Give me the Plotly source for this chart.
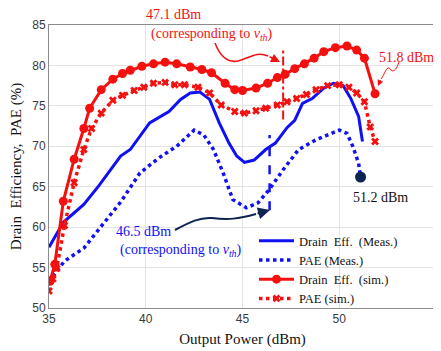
import plotly.graph_objects as go

# ---- data ----
de_meas_x = [35.0, 35.74, 36.8, 37.6, 38.7, 39.2, 40.2, 41.2, 41.8, 42.3, 42.8, 43.3, 43.8, 44.3, 44.7,
             45.1, 45.6, 46.2, 46.7, 47.3, 47.7, 48.1, 48.6, 49.2, 49.7, 50.2, 50.6, 51.0, 51.2]
de_meas_y = [57.5, 60.6, 62.8, 65.2, 68.8, 69.6, 72.9, 74.3, 75.8, 76.6, 76.7, 75.8, 72.9, 70.4, 68.8,
             68.0, 68.3, 69.6, 70.4, 72.3, 73.2, 75.3, 75.9, 77.2, 77.8, 77.5, 75.9, 73.7, 70.6]

pae_meas_x = [35.2, 35.8, 36.8, 37.6, 38.7, 39.7, 40.7, 41.6, 42.5, 43.0, 43.5, 44.0, 44.5, 45.2,
              45.8, 46.4, 47.1, 47.9, 48.8, 50.0, 50.4, 50.7, 51.0, 51.1]
pae_meas_y = [53.9, 55.8, 57.4, 59.8, 63.1, 66.7, 68.6, 70.0, 72.0, 71.4, 69.6, 66.7, 63.4, 62.4,
              63.0, 64.7, 67.1, 69.6, 70.8, 72.0, 71.6, 70.0, 67.9, 66.2]

de_sim_x = [35.05, 35.3, 35.74, 36.3, 36.8, 37.1, 37.7, 38.3, 38.8, 39.2, 39.8, 40.4, 41.0, 41.6, 42.3,
            42.9, 43.4, 44.1, 44.6, 45.0, 45.7, 46.3, 46.8, 47.2, 47.7, 48.2, 48.7, 49.2, 49.8, 50.4,
            50.9, 51.3, 51.85]
de_sim_y = [53.3, 55.4, 63.2, 68.4, 72.2, 74.7, 77.0, 78.3, 79.0, 79.4, 79.9, 80.2, 80.4, 80.2, 79.8,
            79.5, 79.1, 77.8, 77.0, 76.9, 77.2, 77.8, 78.5, 78.9, 79.6, 80.2, 80.9, 81.7, 82.2, 82.4,
            81.9, 80.9, 76.5]

pae_sim_x = [35.0, 35.2, 35.4, 35.8, 36.3, 36.8, 37.2, 37.7, 38.3, 38.8, 39.4, 39.9, 40.4, 41.0, 41.5,
             42.0, 42.7, 43.3, 43.9, 44.6, 45.1, 45.7, 46.2, 46.8, 47.3, 47.8, 48.3, 48.8, 49.4, 50.0,
             50.5, 50.9, 51.3, 51.6, 51.85]
pae_sim_y = [52.1, 53.6, 54.9, 60.2, 65.5, 69.6, 72.2, 74.1, 75.7, 76.3, 76.9, 77.3, 77.8, 77.9, 77.6,
             77.6, 77.3, 76.6, 75.1, 74.3, 74.1, 74.4, 74.7, 75.1, 75.5, 75.9, 76.4, 77.0, 77.5, 77.6,
             77.3, 76.6, 75.5, 72.4, 70.6]

end_point_x = [51.1]
end_point_y = [66.2]

vth_sim_x = 47.1
vth_sim_y = [73.3, 81.9]
vth_meas_x = 46.4
vth_meas_y = [62.1, 71.4]

x_ticks = [35, 40, 45, 50, 55]
y_ticks = [50, 55, 60, 65, 70, 75, 80, 85]

BLUE = "#1010f5"
RED = "#f51010"
NAVY = "#0d2350"
SERIF = "Liberation Serif, Times New Roman, serif"
SANS = "Liberation Sans, Arial, sans-serif"

OFF = 8  # default page body margin
W, H = 441 - OFF, 351 - OFF
L, R, T, B = 49 - OFF, 5, 25 - OFF, 43
PW, PH = W - L - R, H - T - B


# helpers: convert screen-pixel positions (in the 441x351 window) to paper coords
def px(xp):
    return (xp - OFF - L) / PW


def py(yp):
    return (H - B - (yp - OFF)) / PH


def path(pts):
    s = "M %f,%f" % (px(pts[0][0]), py(pts[0][1]))
    for i in range(1, len(pts) - 2, 3):
        s += " C %f,%f %f,%f %f,%f" % (px(pts[i][0]), py(pts[i][1]), px(pts[i + 1][0]), py(pts[i + 1][1]),
                                         px(pts[i + 2][0]), py(pts[i + 2][1]))
    return s


fig = go.Figure()
fig.add_trace(go.Scatter(x=de_meas_x, y=de_meas_y, mode="lines", name="Drain  Eff.  (Meas.)",
                         line=dict(color=BLUE, width=3)))
fig.add_trace(go.Scatter(x=pae_meas_x, y=pae_meas_y, mode="lines", name="PAE (Meas.)",
                         line=dict(color=BLUE, width=3.5, dash="dot")))
fig.add_trace(go.Scatter(x=de_sim_x, y=de_sim_y, mode="lines+markers", name="Drain  Eff.  (sim.)",
                         line=dict(color=RED, width=3), marker=dict(symbol="circle", size=9, color=RED)))
fig.add_trace(go.Scatter(x=pae_sim_x, y=pae_sim_y, mode="lines+markers", name="PAE (sim.)",
                         line=dict(color=RED, width=3.5, dash="dot"),
                         marker=dict(symbol="x", size=7, color=RED)))
fig.add_trace(go.Scatter(x=end_point_x, y=end_point_y, mode="markers", showlegend=False,
                         marker=dict(symbol="circle", size=11, color=NAVY)))

fig.add_shape(type="line", xref="x", yref="y", x0=vth_sim_x, x1=vth_sim_x, y0=vth_sim_y[0], y1=vth_sim_y[1],
              line=dict(color=RED, width=2, dash="dashdot"))
fig.add_shape(type="line", xref="x", yref="y", x0=vth_meas_x, x1=vth_meas_x, y0=vth_meas_y[0], y1=vth_meas_y[1],
              line=dict(color=BLUE, width=2.5, dash="dash"))

# curved arrows (paper coordinates from pixel positions)
fig.add_shape(type="path", xref="paper", yref="paper",
              path=path([(215, 43), (220, 56), (228, 63), (238, 61), (250, 58), (256, 51), (268, 56)]),
              line=dict(color=RED, width=1.5))
fig.add_shape(type="path", xref="paper", yref="paper",
              path=path([(399, 62), (397, 68), (394, 73), (391, 70), (388, 65), (386, 70), (384, 74),
                         (383, 76), (382, 78), (381, 79)]),
              line=dict(color=RED, width=1))
fig.add_shape(type="path", xref="paper", yref="paper",
              path=path([(175, 230), (190, 222), (200, 217), (212, 218), (228, 220), (238, 219), (256, 214)]),
              line=dict(color=NAVY, width=2))

arrows = [((280, 62), (268, 56), RED, 1.5), ((378, 86), (381, 79), RED, 1), ((270, 210), (256, 214), NAVY, 2)]
for (tx, ty), (sx, sy), c, w in arrows:
    fig.add_annotation(xref="paper", yref="paper", x=px(tx), y=py(ty), ax=sx - tx, ay=sy - ty,
                       text="", showarrow=True, arrowhead=2, arrowsize=1.2, arrowwidth=w, arrowcolor=c)

texts = [
    ("47.1 dBm", 173, 15, RED),
    ("(corresponding to <i>v</i><sub><i>th</i></sub>)", 212, 34, RED),
    ("51.8 dBm", 406, 57, RED),
    ("51.2 dBm", 380, 197, "#111111"),
    ("46.5 dBm", 143, 231, BLUE),
    ("(corresponding to <i>v</i><sub><i>th</i></sub>)", 181, 250, BLUE),
]
for t, x, y, c in texts:
    fig.add_annotation(xref="paper", yref="paper", x=px(x), y=py(y), text=t, showarrow=False,
                       xanchor="center", yanchor="middle", font=dict(family=SERIF, size=14, color=c))

fig.update_xaxes(range=[35, 55], tickvals=x_ticks, showgrid=True, gridcolor="#e3e3e3", gridwidth=1,
                 showline=True, linecolor="#8c8c8c", linewidth=1, mirror=True, ticks="", zeroline=False,
                 automargin=False,
                 tickfont=dict(family=SANS, size=12, color="#3a3a3a"),
                 title=dict(text="Output Power (dBm)", font=dict(family=SERIF, size=15, color="#111111"),
                            standoff=8))
fig.update_yaxes(range=[50, 85], tickvals=y_ticks, showgrid=True, gridcolor="#e3e3e3", gridwidth=1,
                 showline=True, linecolor="#8c8c8c", linewidth=1, mirror=True, ticks="", zeroline=False,
                 automargin=False,
                 tickfont=dict(family=SANS, size=12, color="#3a3a3a"),
                 title=dict(text="Drain  Efficiency,  PAE (%)", font=dict(family=SERIF, size=15, color="#111111"),
                            standoff=6))

fig.update_layout(width=W, height=H, margin=dict(l=L, r=R, t=T, b=B, autoexpand=False), plot_bgcolor="white",
                  paper_bgcolor="white",
                  legend=dict(x=px(254), y=py(226), xanchor="left", yanchor="top", bgcolor="rgba(0,0,0,0)",
                              font=dict(family=SERIF, size=12.5, color="#111111"), itemwidth=35,
                              tracegroupgap=0))

fig.write_html("out.html")
